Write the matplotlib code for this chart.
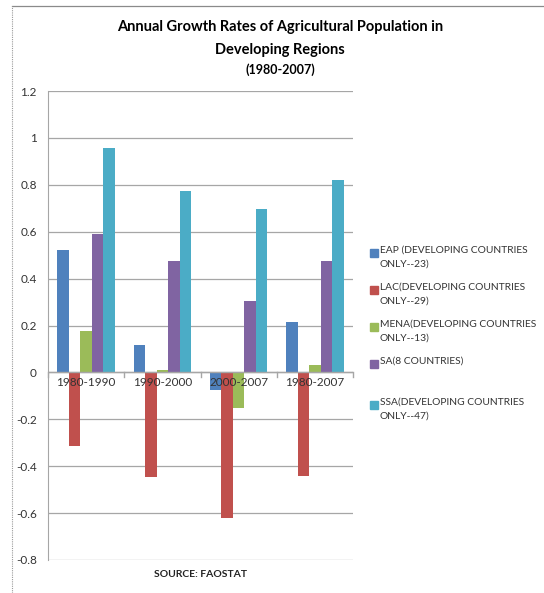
import numpy as np
import matplotlib
matplotlib.use('Agg')
from matplotlib import pyplot as plt
from matplotlib.patches import Rectangle

plt.rcParams['font.family'] = ['Lato', 'DejaVu Sans']

# data
periods = ['1980-1990', '1990-2000', '2000-2007', '1980-2007']
regions = ['EAP (DEVELOPING COUNTRIES\nONLY--23)',
           'LAC(DEVELOPING COUNTRIES\nONLY--29)',
           'MENA(DEVELOPING COUNTRIES\nONLY--13)',
           'SA(8 COUNTRIES)',
           'SSA(DEVELOPING COUNTRIES\nONLY--47)']
eap = [0.52, 0.115, -0.075, 0.215]
lac = [-0.315, -0.445, -0.62, -0.44]
mena = [0.175, 0.01, -0.15, 0.03]
sa = [0.59, 0.475, 0.305, 0.475]
ssa = [0.955, 0.775, 0.695, 0.82]
colors = ['#4F81BD', '#C0504D', '#9BBB59', '#8064A2', '#4BACC6']

W, H = 544, 593
fig = plt.figure(figsize=(W / 100, H / 100), dpi=100)

# chart border: solid top, dotted left
fig.add_artist(plt.Line2D([12 / W, 1], [1 - 6 / H, 1 - 6 / H],
                          transform=fig.transFigure, color='#8a8a8a',
                          linewidth=0.9))
fig.add_artist(plt.Line2D([12 / W, 12 / W], [0, 1 - 6 / H],
                          transform=fig.transFigure, color='#9a9a9a',
                          linewidth=0.8, linestyle=(0, (1, 1))))

ax = fig.add_axes([48 / W, (H - 560) / H, (353 - 48) / W, (560 - 91) / H])

series = [eap, lac, mena, sa, ssa]
x = np.arange(len(periods))
bw = 0.151
for i, (vals, c) in enumerate(zip(series, colors)):
    ax.bar(x - 2 * bw + i * bw, vals, width=bw, color=c, label=regions[i],
           zorder=3)

ax.set_xlim(-0.5, 3.5)
ax.set_ylim(-0.8, 1.2)
ax.set_yticks(np.arange(-0.8, 1.21, 0.2))
ax.set_yticklabels(['-0.8', '-0.6', '-0.4', '-0.2', '0', '0.2', '0.4', '0.6',
                    '0.8', '1', '1.2'], fontsize=8.5, color='#333333')
ax.tick_params(axis='y', length=0, pad=8)
ax.grid(axis='y', color='#a6a6a6', linewidth=0.9, zorder=0)
ax.set_xticks([])
for s in ['top', 'right', 'bottom']:
    ax.spines[s].set_visible(False)
ax.spines['left'].set_color('#a6a6a6')

# category axis at zero
ax.axhline(0, color='#a6a6a6', linewidth=1, zorder=4)
for b in np.arange(-0.5, 3.6, 1):
    ax.plot([b, b], [0, -0.018], color='#a6a6a6', linewidth=1, zorder=4,
            clip_on=False)
for xi, p in zip(x, periods):
    ax.text(xi, -0.02, p, ha='center', va='top', fontsize=8.5,
            color='#333333', zorder=5)

ax.text(1.5, -0.86, 'SOURCE: FAOSTAT', ha='center', va='center',
        fontsize=7.5, fontweight='bold', color='#222222')

fig.text(280 / W, 1 - 27 / H,
         'Annual Growth Rates of Agricultural Population in',
         ha='center', va='center', fontsize=10.5, fontweight='bold')
fig.text(280 / W, 1 - 50 / H, 'Developing Regions', ha='center',
         va='center', fontsize=10.5, fontweight='bold')
fig.text(280 / W, 1 - 70 / H, '(1980-2007)', ha='center', va='center',
         fontsize=9, fontweight='bold')

# legend drawn by hand to keep the Excel-like spacing
leg_y = [253, 290, 327, 364, 405]
for lbl, c, yy in zip(regions, colors, leg_y):
    fig.patches.append(Rectangle((370 / W, 1 - (yy + 4) / H), 8 / W, 8 / H,
                                 transform=fig.transFigure, color=c))
    fig.text(380 / W, 1 - (yy - 7) / H, lbl, ha='left', va='top',
             fontsize=7.4, color='#333333', linespacing=1.6)

fig.savefig('out.png', dpi=100)
